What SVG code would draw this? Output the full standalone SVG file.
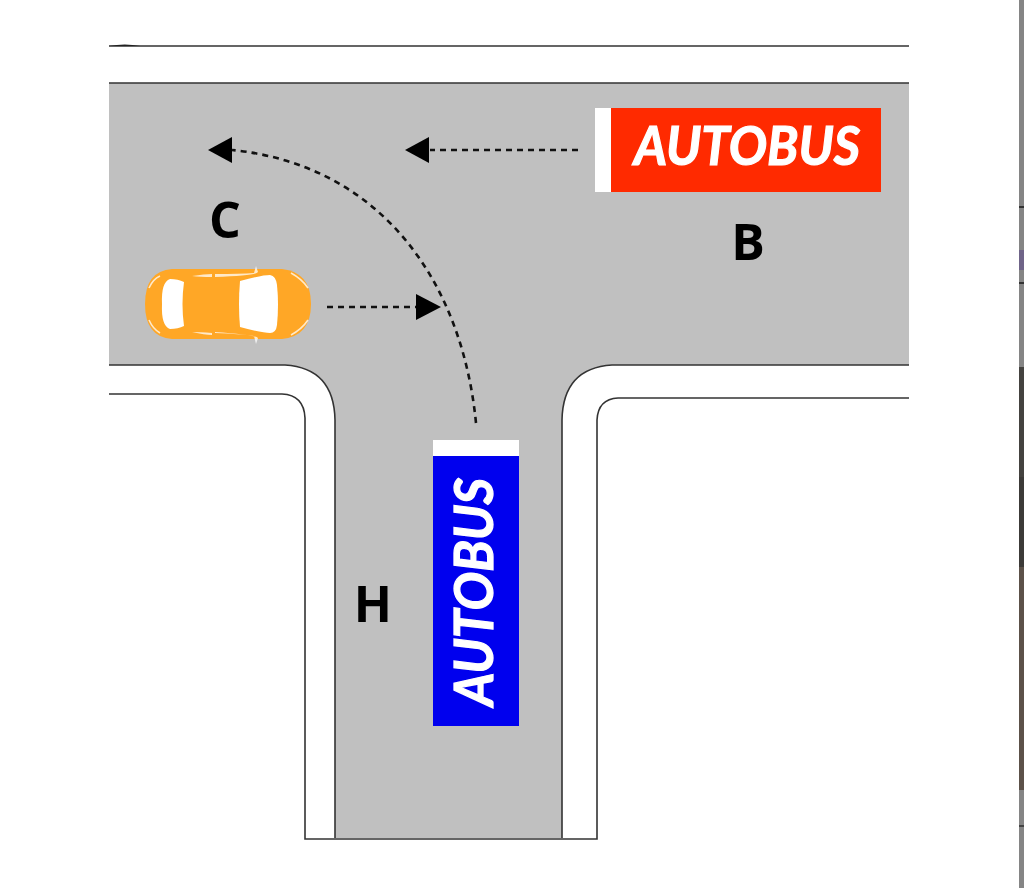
<svg xmlns="http://www.w3.org/2000/svg" width="1024" height="888" viewBox="0 0 1024 888">
<style>
.ln{fill:none;stroke:#333;stroke-width:1.6}
.dash{fill:none;stroke:#111;stroke-width:2.6;stroke-dasharray:6 5}
.lab{font-family:"Open Sans","Noto Sans",sans-serif;font-weight:700;font-size:50px;fill:#000;text-anchor:middle}
.bus{font-family:Lato,"Open Sans",sans-serif;font-weight:700;font-style:italic;font-size:54px;fill:#fff;stroke:#fff;stroke-width:1.2;text-anchor:middle}
</style>
<rect width="1024" height="888" fill="#fff"/>
<g id="side-strip">
<rect x="1019" y="0" width="5" height="888" fill="#858585"/>
<rect x="1019" y="367" width="5" height="110" fill="#44423f"/>
<rect x="1019" y="477" width="5" height="90" fill="#3c3a38"/>
<rect x="1019" y="567" width="5" height="223" fill="#5c5149"/>
<rect x="1019" y="250" width="5" height="20" fill="#6f6488"/>
<rect x="1019" y="206" width="5" height="2" fill="#333"/>
<rect x="1019" y="282" width="5" height="2" fill="#333"/>
<rect x="1019" y="825" width="5" height="2" fill="#444"/>
</g>
<g id="road">
<path d="M109 83H909V365H612Q563 368 562 420V838H335V420Q334 368 285 365H109Z" fill="#c0c0c0"/>
<path class="ln" d="M109 83H909M909 365H612Q563 368 562 420V838M335 838V420Q334 368 285 365H109"/>
<path class="ln" d="M109 46H909M109 394H282Q304 395 305 418V839H597V420Q598 399 618 398H909"/>
<path d="M109 46Q125 43 140 46Z" fill="#222"/>
</g>
<g id="connectors">
<path class="dash" d="M476 423C462 280 380 165 232 150"/>
<path class="dash" d="M578 150H430"/>
<path class="dash" d="M327 307H416"/>
<path d="M208 150L232 137V163Z" fill="#000"/>
<path d="M405 150L429 137V163Z" fill="#000"/>
<path d="M441 307L416 294V320Z" fill="#000"/>
</g>
<g id="bus-b">
<rect x="595" y="108" width="16" height="84" fill="#fff"/>
<rect x="611" y="108" width="270" height="84" fill="#ff2a00"/>
<text class="bus" x="747" y="165" textLength="226" lengthAdjust="spacingAndGlyphs">AUTOBUS</text>
</g>
<g id="bus-h">
<rect x="433" y="440" width="86" height="16" fill="#fff"/>
<rect x="433" y="456" width="86" height="270" fill="#0000ee"/>
<text class="bus" transform="translate(493 592) rotate(-90)" textLength="228" lengthAdjust="spacingAndGlyphs">AUTOBUS</text>
</g>
<g id="car-c">
<path d="M172 269H282Q311 272 311 304Q311 336 282 339H172Q145 337 145 304Q145 271 172 269Z" fill="#ffa726"/>
<path d="M240 281Q262 275 270 275Q276 276 277 285Q279 304 277 325Q276 333 270 333Q262 333 240 327Q238 304 240 281Z" fill="#fff"/>
<path d="M170 279Q178 279 184 282Q181 304 184 326Q178 329 170 329Q161 326 162 304Q161 282 170 279Z" fill="#fff"/>
<path d="M192 276Q205 274 212 274L212 277Q200 277 192 276ZM215 274Q240 274 254 273L256 266L258 272Q256 276 215 277ZM192 332Q205 335 212 335L212 333Q200 332 192 332ZM215 333Q240 334 254 336L256 344L258 338Q256 335 215 332Z" fill="#fff" opacity=".75"/>
<path d="M149 288Q153 279 160 276M149 320Q153 329 160 333M291 273Q302 279 308 288M291 335Q302 329 308 320" fill="none" stroke="#fff" stroke-width="1.6" opacity=".75"/>
</g>
<g id="labels">
<text class="lab" x="225" y="238">C</text>
<text class="lab" x="748" y="260">B</text>
<text class="lab" x="373" y="622">H</text>
</g>
</svg>
